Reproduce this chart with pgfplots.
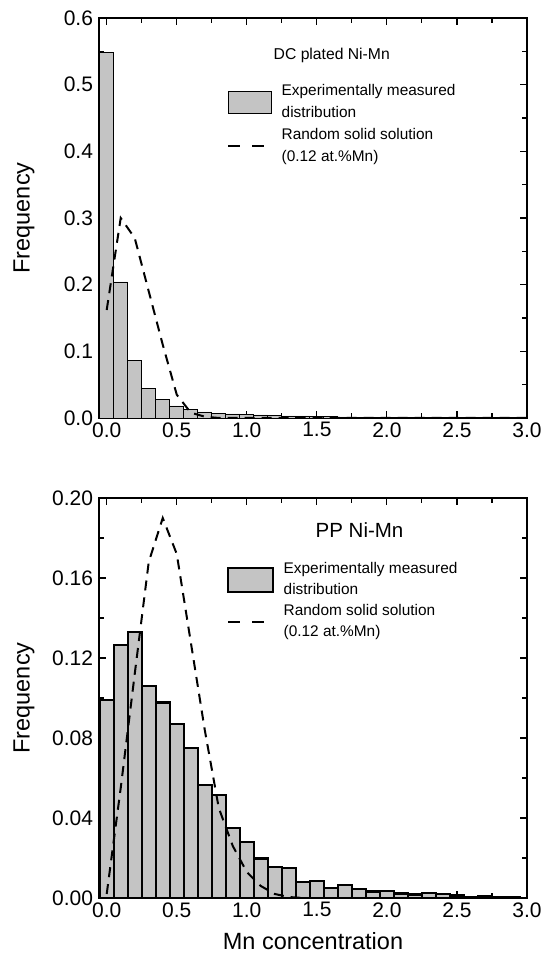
\documentclass[border=0pt]{standalone}
\usepackage{fontspec}
\setmainfont{Liberation Sans}
\usepackage{pgfplots}
\pgfplotsset{compat=1.18}
\definecolor{barfill}{RGB}{196,196,196}

\pgfplotstableread{
x y
0.0 0.548
0.1 0.204
0.2 0.0866
0.3 0.044
0.4 0.028
0.5 0.018
0.6 0.013
0.7 0.009
0.8 0.007
0.9 0.006
1.0 0.005
1.1 0.0045
1.2 0.004
1.3 0.003
1.4 0.003
1.5 0.0025
1.6 0.002
1.7 0.0015
1.8 0.0012
1.9 0.001
2.0 0.001
2.1 0.0008
2.2 0.0007
2.3 0.0006
2.4 0.0005
2.5 0.0004
2.6 0.0003
2.7 0.0003
2.8 0.0002
2.9 0.0002
}\dcbars

\pgfplotstableread{
x y
0.0 0.162
0.1 0.300
0.2 0.270
0.3 0.190
0.4 0.110
0.5 0.035
0.6 0.008
0.7 0.002
0.8 0.0
1.0 0.0
1.5 0.0
2.0 0.0
2.5 0.0
3.0 0.0
}\dcline

\pgfplotstableread{
x y
0.0 0.099
0.1 0.1265
0.2 0.133
0.3 0.106
0.4 0.0977
0.5 0.087
0.6 0.0751
0.7 0.0564
0.8 0.0514
0.9 0.035
1.0 0.028
1.1 0.0197
1.2 0.0155
1.3 0.015
1.4 0.0082
1.5 0.0087
1.6 0.0052
1.7 0.0067
1.8 0.0045
1.9 0.0033
2.0 0.0037
2.1 0.0023
2.2 0.0018
2.3 0.0025
2.4 0.002
2.5 0.0013
2.6 0.0007
2.7 0.0012
2.8 0.0005
2.9 0.0003
}\ppbars

\pgfplotstableread{
x y
0.0 0.002
0.1 0.055
0.2 0.112
0.3 0.168
0.4 0.190
0.5 0.172
0.6 0.128
0.7 0.084
0.8 0.045
0.9 0.026
1.0 0.013
1.1 0.006
1.2 0.002
1.3 0.0005
1.4 0.0
2.0 0.0
2.5 0.0
3.0 0.0
}\ppline

\pgfplotsset{
  myaxis/.style={
    scale only axis, width=428pt, height=400pt,
    xmin=-0.055, xmax=3.0,
    xtick={0,0.5,1.0,1.5,2.0,2.5,3.0},
    minor xtick={0.25,0.75,1.25,1.75,2.25,2.75},
    tick align=inside,
    major tick length=7pt, minor tick length=5pt,
    axis line style={line width=1.1pt},
    every tick/.style={black, line width=1.1pt},
    /pgf/number format/assume math mode=true,
    tick label style={font=\fontsize{21}{23}\selectfont},
    xticklabel style={yshift=-1pt, /pgf/number format/fixed, /pgf/number format/fixed zerofill, /pgf/number format/precision=1},
    yticklabel style={xshift=-2.5pt},
    label style={font=\fontsize{23.5}{26}\selectfont},
    ylabel={Frequency},
    ylabel style={at={(axis description cs:-0.175,0.5)}, anchor=center},
    legend cell align=left,
    legend style={draw=none, fill=none, inner sep=0pt, column sep=10.5pt,
      nodes={inner sep=0pt, text height=10.5pt, text depth=3pt, anchor=west},
      font=\fontsize{15.4}{18}\selectfont},
  }
}

\begin{document}
\begin{tikzpicture}
\path[use as bounding box] (0pt,0pt) rectangle (544pt,956pt);

% ---------------- top panel ----------------
\begin{axis}[myaxis,
  at={(99pt,538pt)}, anchor=south west,
  ymin=0, ymax=0.6,
  ytick={0,0.1,0.2,0.3,0.4,0.5,0.6},
  minor ytick={0.05,0.15,0.25,0.35,0.45,0.55},
  yticklabel style={/pgf/number format/fixed, /pgf/number format/fixed zerofill, /pgf/number format/precision=1},
  legend style={at={(axis description cs:0.3014,0.834)}, anchor=north west, row sep=8.5pt},
]
\addplot[ybar, bar width=0.1, bar shift=0pt, fill=barfill, draw=black, line width=0.9pt,
  legend image code/.code={\path[draw=none,fill=none] (0pt,0pt) -- (43pt,0pt);
    \draw[overlay,fill=barfill,draw=black,line width=0.9pt] (0pt,-22pt) rectangle (43pt,0pt);}]
  table[x=x,y=y] {\dcbars};
\addlegendentry{Experimentally measured}
\addlegendimage{empty legend}
\addlegendentry{distribution}
\addplot[black, line width=2pt, dash pattern=on 10pt off 7pt, mark=none,
  legend image code/.code={\path[draw=none,fill=none] (0pt,0pt) -- (43pt,0pt);
    \draw[overlay,black,line width=2pt,dash pattern=on 12pt off 12pt] (0pt,-11pt) -- (36pt,-11pt);}]
  table[x=x,y=y] {\dcline};
\addlegendentry{Random solid solution}
\addlegendimage{empty legend}
\addlegendentry{(0.12 at.\%Mn)}
\node[anchor=west, font=\fontsize{15.7}{18}\selectfont] at (axis description cs:0.40,0.9075) {DC plated Ni-Mn};
\end{axis}

% ---------------- bottom panel ----------------
\begin{axis}[myaxis,
  at={(99pt,58pt)}, anchor=south west,
  ymin=0, ymax=0.2,
  ytick={0,0.04,0.08,0.12,0.16,0.20},
  minor ytick={0.02,0.06,0.10,0.14,0.18},
  yticklabel style={/pgf/number format/fixed, /pgf/number format/fixed zerofill, /pgf/number format/precision=2},
  xlabel={Mn concentration},
  xlabel style={at={(axis description cs:0.5,-0.108)}, anchor=center},
  legend style={at={(axis description cs:0.3014,0.839)}, anchor=north west, row sep=7.5pt},
]
\addplot[ybar, bar width=0.1, bar shift=0pt, fill=barfill, draw=black, line width=2.2pt,
  legend image code/.code={\path[draw=none,fill=none] (0pt,0pt) -- (45pt,0pt);
    \draw[overlay,fill=barfill,draw=black,line width=2.2pt] (0pt,-22.5pt) rectangle (45pt,1.5pt);}]
  table[x=x,y=y] {\ppbars};
\addlegendentry{Experimentally measured}
\addlegendimage{empty legend}
\addlegendentry{distribution}
\addplot[black, line width=2pt, dash pattern=on 10pt off 7pt, mark=none,
  legend image code/.code={\path[draw=none,fill=none] (0pt,0pt) -- (45pt,0pt);
    \draw[overlay,black,line width=2pt,dash pattern=on 12pt off 12pt] (0pt,-10.5pt) -- (36pt,-10.5pt);}]
  table[x=x,y=y] {\ppline};
\addlegendentry{Random solid solution}
\addlegendimage{empty legend}
\addlegendentry{(0.12 at.\%Mn)}
\node[anchor=west, font=\fontsize{20.5}{23}\selectfont] at (axis description cs:0.498,0.92) {PP Ni-Mn};
\end{axis}
\end{tikzpicture}
\end{document}
